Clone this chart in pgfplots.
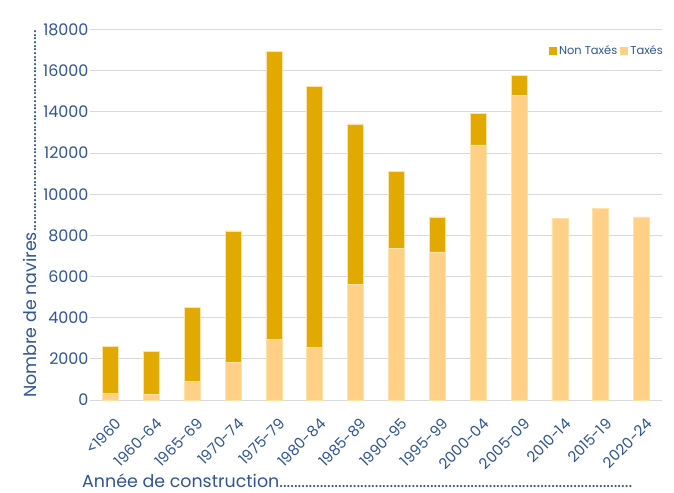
\documentclass[border=0pt]{standalone}
\usepackage{fontspec}
\setmainfont{Poppins}
\newfontfamily\latofont{Lato}
\usepackage{pgfplots}
\pgfplotsset{compat=1.18}
\definecolor{dark}{RGB}{226,170,0}
\definecolor{light}{RGB}{255,208,133}
\definecolor{edge}{RGB}{255,226,170}
\definecolor{txt}{RGB}{47,85,151}
\definecolor{gridc}{RGB}{217,217,217}
\pgfplotstableread{
x tax non
0 330 2290
1 260 2100
2 920 3590
3 1840 6380
4 2950 13970
5 2570 12670
6 5620 7790
7 7350 3750
8 7200 1700
9 12390 1540
10 14800 980
11 8830 0
12 9300 0
13 8900 0
}\data
\begin{document}
\begin{tikzpicture}
\begin{axis}[name=ax, at={(0,0)}, anchor=south west,
  scale only axis, width=572bp, height=370.5bp,
  ybar stacked, bar width=16bp,
  xmin=-0.5, xmax=13.5, ymin=0, ymax=18000,
  xtick=data,
  xticklabels={{\latofont\fontsize{17}{18}\selectfont<}1960,1960-64,1965-69,1970-74,1975-79,1980-84,1985-89,1990-95,1995-99,2000-04,2005-09,2010-14,2015-19,2020-24},
  ytick={0,2000,...,18000},
  scaled y ticks=false,
  /pgf/number format/1000 sep={},
  /pgf/number format/assume math mode=true,
  axis line style={draw=none},
  major tick length=0pt,
  ymajorgrids, grid style={gridc, line width=0.9bp},
  yticklabel style={font=\fontsize{16}{18}\selectfont, text=txt, xshift=2bp},
  xticklabel style={font=\fontsize{15}{16}\selectfont, text=txt, rotate=45, anchor=north east, inner sep=1bp, xshift=-8bp, yshift=-14bp},
  legend style={draw=none, fill=none, at={(1,1)}, anchor=north east, yshift=-12bp, xshift=6bp,
    font=\fontsize{11.5}{14}\selectfont, text=txt, legend columns=2,
    /tikz/every even column/.append style={column sep=1bp}},
  legend image code/.code={\fill[#1] (0bp,-4bp) rectangle (8bp,4bp);},
]
\addlegendimage{fill=dark, draw=none}
\addlegendentry{Non Taxés}
\addlegendimage{fill=light, draw=none}
\addlegendentry{Taxés}
\addplot[fill=light, draw=edge, line width=0.5bp, forget plot] table[x=x, y=tax] {\data};
\addplot[fill=dark, draw=edge, line width=0.5bp, forget plot] table[x=x, y=non] {\data};
\end{axis}
\node[rotate=90, anchor=south west, inner sep=0pt, text=txt, font=\fontsize{17.5}{19}\selectfont] at (-53bp,2bp)
  {\makebox[368bp][l]{Nombre de navires\xleaders\hbox{.}\hfill}};
\node[anchor=base west, inner sep=0pt, text=txt, font=\fontsize{17.5}{19}\selectfont] at (-8bp,-87bp)
  {\makebox[550bp][l]{Année de construction\xleaders\hbox{.}\hfill}};
\pgfresetboundingbox
\path[use as bounding box] (-90bp,-93bp) rectangle (584bp,400bp);
\end{tikzpicture}
\end{document}
